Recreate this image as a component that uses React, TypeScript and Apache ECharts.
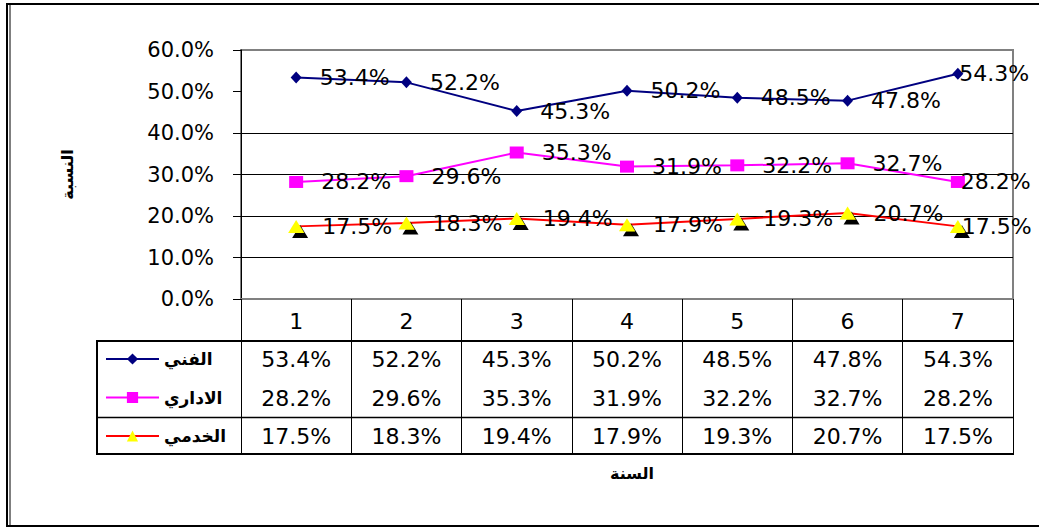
import React, { useEffect, useRef } from 'react';
import * as echarts from 'echarts';

const categories = ['1', '2', '3', '4', '5', '6', '7'];
const seriesNames = ['الفني', 'الاداري', 'الخدمي'];
const fanni = [53.4, 52.2, 45.3, 50.2, 48.5, 47.8, 54.3];
const idari = [28.2, 29.6, 35.3, 31.9, 32.2, 32.7, 28.2];
const khadami = [17.5, 18.3, 19.4, 17.9, 19.3, 20.7, 17.5];
const yMin = 0;
const yMax = 60;
const yStep = 10;
const yTitle = 'النسبة';
const xTitle = 'السنة';

const fmt = (v: number) => v.toFixed(1) + '%';

export default function App() {
  const ref = useRef<HTMLDivElement>(null);
  useEffect(() => {
    const chart = echarts.init(ref.current!, null, { renderer: 'svg' });
    const font = "'DejaVu Sans', 'Liberation Sans', sans-serif";
    const mkData = (arr: number[]) =>
      arr.map((v, i) => (i === arr.length - 1 ? { value: v, label: { distance: -4 } } : v));
    const mkSeries = (name: string, arr: number[], color: string, symbol: string, size: any, extra: any) => ({
      type: 'line',
      name,
      data: mkData(arr),
      symbol,
      symbolSize: size,
      lineStyle: { color, width: 2 },
      itemStyle: { color, ...extra },
      label: {
        show: true,
        position: 'right',
        distance: 18,
        formatter: (p: any) => fmt(p.value),
        color: '#000',
        fontSize: 22,
        fontFamily: font,
      },
      emphasis: { disabled: true },
    });
    chart.setOption({
      animation: false,
      backgroundColor: '#fff',
      textStyle: { fontFamily: font },
      grid: {
        left: 241,
        top: 50,
        width: 772,
        height: 249,
        show: true,
        borderColor: '#808080',
        borderWidth: 2,
        containLabel: false,
      },
      legend: {
        orient: 'vertical',
        left: 105,
        top: 349,
        padding: 0,
        itemWidth: 53,
        itemHeight: 14,
        itemGap: 18.5,
        selectedMode: false,
        data: seriesNames,
        itemStyle: { shadowColor: 'rgba(0,0,0,0)', shadowOffsetX: 0, shadowOffsetY: 0, shadowBlur: 0 },
        textStyle: { fontSize: 17, fontWeight: 'bold', fontFamily: font, color: '#000', lineHeight: 20 },
      },
      xAxis: {
        type: 'category',
        data: categories,
        boundaryGap: true,
        name: xTitle,
        nameLocation: 'middle',
        nameGap: 166,
        nameTextStyle: { fontSize: 16, fontWeight: 'bold', color: '#000', fontFamily: font, padding: [0, 0, 0, 10] },
        axisLine: { show: true, lineStyle: { color: '#808080', width: 2 } },
        axisTick: { show: true, length: 155, alignWithLabel: false, lineStyle: { color: '#000', width: 1 } },
        axisLabel: {
          interval: 0,
          margin: 2.75,
          fontSize: 22,
          lineHeight: 38.5,
          color: '#000',
          fontFamily: font,
          formatter: (v: string, i: number) =>
            [v, fmt(fanni[i]), fmt(idari[i]), fmt(khadami[i])].join('\n'),
        },
        splitLine: { show: false },
      },
      yAxis: {
        type: 'value',
        min: yMin,
        max: yMax,
        interval: yStep,
        name: yTitle,
        nameLocation: 'middle',
        nameGap: 166,
        nameRotate: 90,
        nameTextStyle: { fontSize: 16, fontWeight: 'bold', color: '#000', fontFamily: font },
        axisLine: { show: true, lineStyle: { color: '#000', width: 1 } },
        axisTick: { show: true, inside: false, length: 8, lineStyle: { color: '#000' } },
        axisLabel: { margin: 27, fontSize: 21, color: '#000', fontFamily: font, formatter: (v: number) => fmt(v) },
        splitLine: {
          show: true,
          lineStyle: {
            color: ['#808080', '#000', '#000', '#000', '#000', 'rgba(0,0,0,0)', '#808080'],
            width: 1,
          },
        },
      },
      graphic: [
        { type: 'rect', silent: true, shape: { x: 7, y: 4, width: 1050, height: 522 }, style: { fill: 'none', stroke: '#000', lineWidth: 2 } },
        { type: 'line', silent: true, shape: { x1: 10, y1: 4, x2: 10, y2: 526 }, style: { stroke: '#000', lineWidth: 1 } },
        { type: 'line', silent: true, shape: { x1: 96, y1: 341, x2: 1014, y2: 341 }, style: { stroke: '#000', lineWidth: 2 } },
        { type: 'line', silent: true, shape: { x1: 96, y1: 417.5, x2: 1013, y2: 417.5 }, style: { stroke: '#000', lineWidth: 1.5 } },
        { type: 'line', silent: true, shape: { x1: 96, y1: 454, x2: 1014, y2: 454 }, style: { stroke: '#000', lineWidth: 2 } },
        { type: 'line', silent: true, shape: { x1: 97, y1: 340, x2: 97, y2: 455 }, style: { stroke: '#000', lineWidth: 2 } },
      ],
      series: [
        mkSeries(seriesNames[0], fanni, '#000080', 'diamond', [11, 12], {}),
        mkSeries(seriesNames[1], idari, '#FF00FF', 'rect', [14, 12], {}),
        mkSeries(seriesNames[2], khadami, '#FF0000', 'triangle', [16, 13], {
          color: '#FFFF00',
          shadowColor: '#000',
          shadowOffsetX: 4,
          shadowOffsetY: 5,
          shadowBlur: 0,
        }),
      ],
    });
    return () => chart.dispose();
  }, []);
  return (
    <div
      ref={ref}
      style={{ position: 'fixed', left: 0, top: 0, width: 1039, height: 527, background: '#fff' }}
    />
  );
}
